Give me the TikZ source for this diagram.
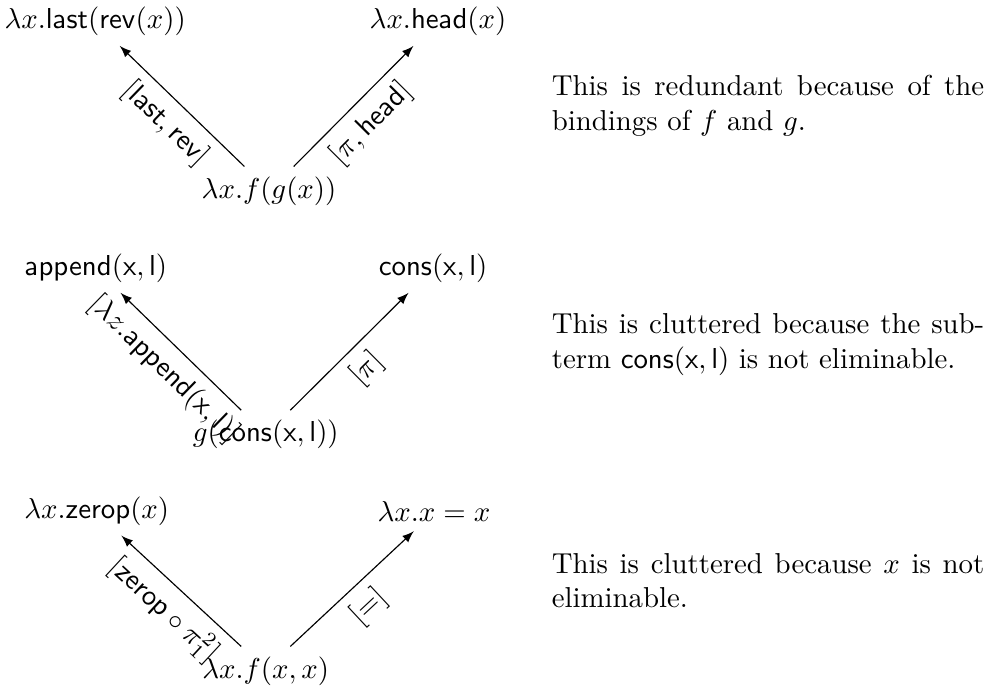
\documentclass[tikz,border=0pt]{standalone}
\usepackage{amsmath,amssymb}
\usepackage{tikz}

\begin{document}
\begin{tikzpicture}[x=1cm,y=1cm,>=latex,
    lbl/.style={midway,sloped,below},
    expl/.style={anchor=west,text width=150pt,align=justify,inner sep=0pt}]
    \useasboundingbox (0,0) rectangle (12.02,-8.44);
    % row 1
    \node (tlA) at (1.16,-0.26) {$\lambda x.\mathsf{last}(\mathsf{rev}(x))$};
    \node (trA) at (5.34,-0.26) {$\lambda x.\mathsf{head}(x)$};
    \node (bA) at (3.28,-2.33) {$\lambda x.f(g(x))$};
    \draw[->] (bA.135) -- (tlA.-45) node[lbl] {$[\mathsf{last},\mathsf{rev}]$};
    \draw[->] (bA.45) -- (trA.-135) node[lbl] {$[\pi,\mathsf{head}]$};
    \node[expl] (tA) at (6.72,-1.29) {This is redundant because of the bindings of $f$ and $g$.};
    % row 2
    \node (tlB) at (1.17,-3.27) {$\mathsf{append}(\mathsf{x},\mathsf{l})$};
    \node (trB) at (5.28,-3.27) {$\mathsf{cons}(\mathsf{x},\mathsf{l})$};
    \node (bB) at (3.24,-5.30) {$g(\mathsf{cons}(\mathsf{x},\mathsf{l}))$};
    \draw[->] (bB.135) -- (tlB.-45) node[lbl] {$[\lambda z.\mathsf{append}(\mathsf{x},\mathsf{l})]$};
    \draw[->] (bB.45) -- (trB.-135) node[lbl] {$[\pi]$};
    \node[expl] (tB) at (6.72,-4.20) {This is cluttered because the subterm $\mathsf{cons}(\mathsf{x},\mathsf{l})$ is not eliminable.};
    % row 3
    \node (tlC) at (1.18,-6.23) {$\lambda x.\mathsf{zerop}(x)$};
    \node (trC) at (5.29,-6.23) {$\lambda x.x = x$};
    \node (bC) at (3.24,-8.18) {$\lambda x.f(x,x)$};
    \draw[->] (bC.135) -- (tlC.-45) node[lbl] {$[\mathsf{zerop}\circ\pi^2_1]$};
    \draw[->] (bC.45) -- (trC.-135) node[lbl] {$[=]$};
    \node[expl] (tC) at (6.72,-7.08) {This is cluttered because $x$ is not eliminable.};
\end{tikzpicture}
\end{document}
